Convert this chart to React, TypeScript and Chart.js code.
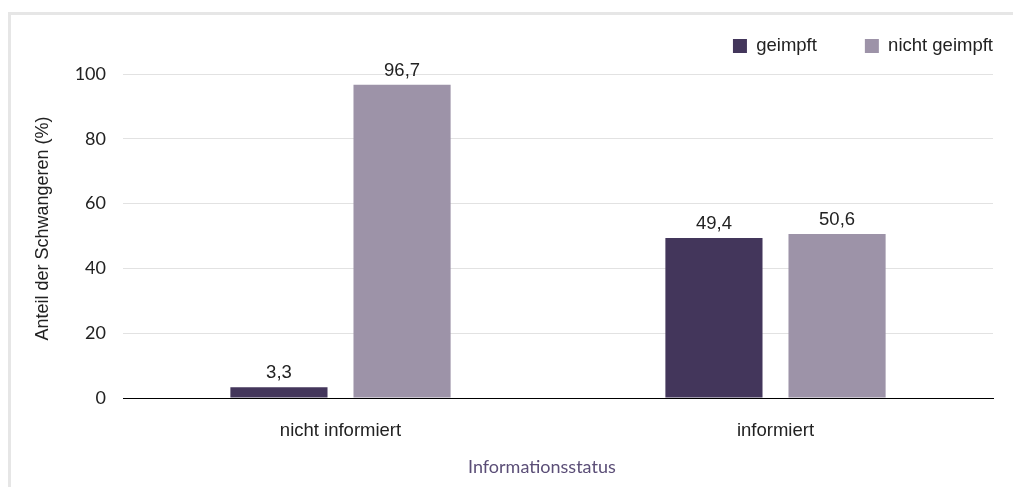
import React, { useEffect, useRef } from 'react';
import { Chart, registerables } from 'chart.js';

Chart.register(...registerables);

// ---- data ----
const categories = ['nicht informiert', 'informiert'];
const seriesNames = ['geimpft', 'nicht geimpft'];
const geimpft = [3.3, 49.4];
const nichtGeimpft = [96.7, 50.6];
const yTickMin = 0;
const yTickMax = 100;
const yTickStep = 20;
const xTitle = 'Informationsstatus';
const yTitle = 'Anteil der Schwangeren (%)';

// ---- styles ----
const seriesColors = ['#43365b', '#9d93a8'];
const LABEL_FONT = "'Liberation Sans', Arial, sans-serif";
const TICK_FONT = 'Lato, sans-serif';
const TEXT_COLOR = '#222222';
const LEGEND_CENTER_Y = 46;

const valueLabels = {
  id: 'valueLabels',
  afterDatasetsDraw(chart: any) {
    const ctx = chart.ctx;
    ctx.save();
    ctx.font = `18.5px ${LABEL_FONT}`;
    ctx.fillStyle = TEXT_COLOR;
    ctx.textAlign = 'center';
    ctx.textBaseline = 'bottom';
    chart.data.datasets.forEach((ds: any, i: number) => {
      const meta = chart.getDatasetMeta(i);
      meta.data.forEach((el: any, j: number) => {
        const v = ds.data[j] as number;
        ctx.fillText(v.toFixed(1).replace('.', ','), el.x, el.y - 5);
      });
    });
    ctx.restore();
  },
};

const legendPlacement = {
  id: 'legendPlacement',
  beforeInit(chart: any) {
    const legend = chart.legend;
    if (!legend) return;
    const fit = legend.fit;
    legend.fit = function () {
      fit.call(this);
      this.height = 74;
    };
  },
  afterLayout(chart: any) {
    const legend = chart.legend;
    if (!legend) return;
    const pad = legend.options.labels.padding;
    const itemH = Math.max(legend.options.labels.font.size, legend.options.labels.boxHeight);
    legend.right = chart.chartArea.right + pad;
    legend.top = LEGEND_CENTER_Y - pad - itemH / 2;
  },
};

export default function App() {
  const ref = useRef<HTMLCanvasElement>(null);

  useEffect(() => {
    const chart = new Chart(ref.current as HTMLCanvasElement, {
      type: 'bar',
      data: {
        labels: categories,
        datasets: [
          {
            label: seriesNames[0],
            data: geimpft,
            backgroundColor: seriesColors[0],
            categoryPercentage: 0.566,
            barPercentage: 0.789,
          },
          {
            label: seriesNames[1],
            data: nichtGeimpft,
            backgroundColor: seriesColors[1],
            categoryPercentage: 0.566,
            barPercentage: 0.789,
          },
        ],
      },
      options: {
        animation: false,
        responsive: false,
        devicePixelRatio: 1,
        layout: { padding: { left: 0, right: 20, top: 0, bottom: 0 } },
        plugins: {
          tooltip: { enabled: false },
          legend: {
            position: 'top',
            align: 'end',
            labels: {
              boxWidth: 14,
              boxHeight: 14,
              padding: 48,
              color: TEXT_COLOR,
              font: { family: LABEL_FONT, size: 18.5 },
            },
          },
        },
        scales: {
          x: {
            grid: { display: false, drawTicks: false },
            border: { display: true, color: '#000000', width: 1 },
            ticks: {
              color: TEXT_COLOR,
              font: { family: LABEL_FONT, size: 18.5 },
              padding: 22,
            },
            title: {
              display: true,
              text: xTitle + '       ',
              color: '#5b4e77',
              font: { family: TICK_FONT, size: 18 },
              padding: { top: 0, bottom: 9 },
            },
            afterFit: (s: any) => {
              s.height = 89;
            },
          },
          y: {
            min: yTickMin,
            max: yTickMax,
            ticks: {
              stepSize: yTickStep,
              color: TEXT_COLOR,
              font: { family: TICK_FONT, size: 18 },
              padding: 17,
            },
            grid: {
              drawTicks: false,
              color: (c: any) => (c.tick && c.tick.value === 0 ? '#000000' : '#e2e2e2'),
            },
            border: { display: false },
            title: {
              display: true,
              text: '   ' + yTitle,
              color: TEXT_COLOR,
              font: { family: LABEL_FONT, size: 18 },
              padding: { top: 32, bottom: 0 },
            },
            afterFit: (s: any) => {
              s.width = 123;
            },
          },
        },
      },
      plugins: [valueLabels, legendPlacement],
    } as any);
    return () => chart.destroy();
  }, []);

  return (
    <div
      style={{
        position: 'fixed',
        left: 0,
        top: 0,
        width: 1013,
        height: 487,
        overflow: 'hidden',
        background: '#ffffff',
      }}
    >
      <div
        style={{
          position: 'absolute',
          left: 8,
          top: 12,
          right: -10,
          bottom: -10,
          borderLeft: '3px solid #e6e6e6',
          borderTop: '3px solid #e6e6e6',
        }}
      />
      <canvas
        ref={ref}
        width={1013}
        height={487}
        style={{ position: 'absolute', left: 0, top: 0, width: 1013, height: 487 }}
      />
    </div>
  );
}
